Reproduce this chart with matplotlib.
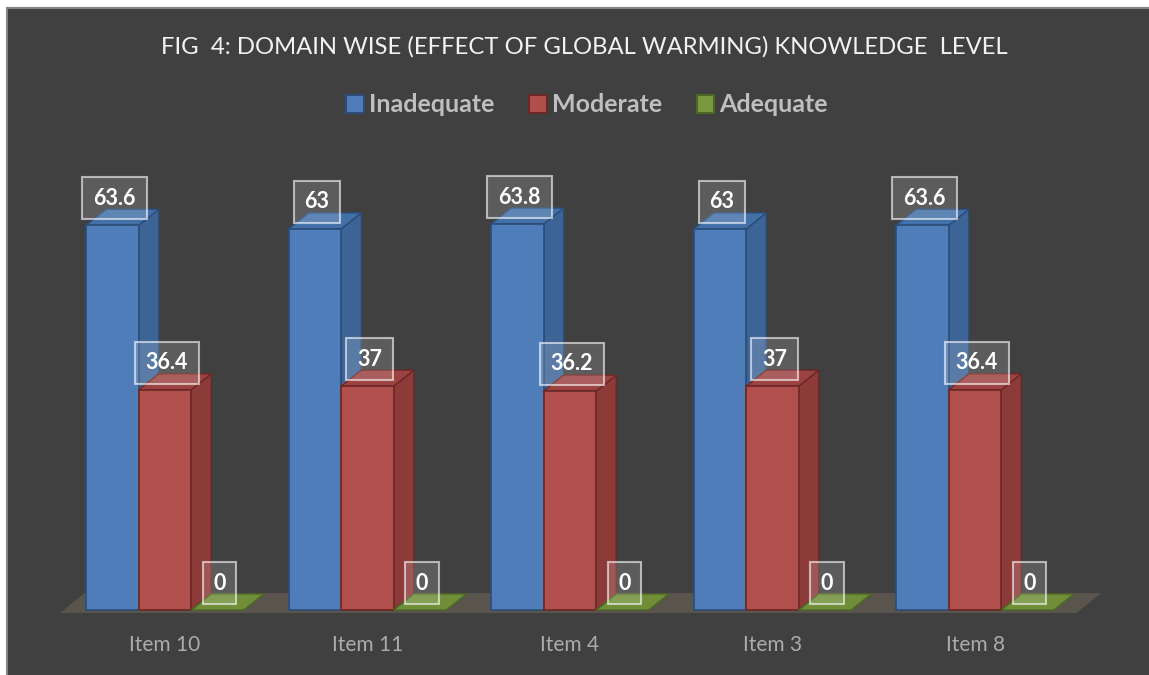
import numpy as np
import matplotlib.pyplot as plt
from matplotlib.patches import Polygon, Patch, Rectangle

plt.rcParams['font.family'] = ['Lato', 'DejaVu Sans']

categories = ['Item 10', 'Item 11', 'Item 4', 'Item 3', 'Item 8']
inadequate = [63.6, 63, 63.8, 63, 63.6]
moderate = [36.4, 37, 36.2, 37, 36.4]
adequate = [0, 0, 0, 0, 0]
series_names = ['Inadequate', 'Moderate', 'Adequate']
title = 'FIG  4: DOMAIN WISE (EFFECT OF GLOBAL WARMING) KNOWLEDGE  LEVEL'

front_colors = ['#4f7dba', '#b04f4c', '#7a9a3f']
side_colors = ['#3d6497', '#8c3b39', '#5e7b2e']
top_colors = ['#4270a8', '#9c4341', '#6f8e37']
edge_colors = ['#2b4d78', '#6b2827', '#4d6824']

W, H = 1149, 675
fig = plt.figure(figsize=(W / 100, H / 100), dpi=100)
fig.patch.set_facecolor('white')
fig.patches.append(Rectangle((7 / W, -0.01), 1.0, (H - 8) / H + 0.01,
                             transform=fig.transFigure, facecolor='#404040',
                             edgecolor='#858585', lw=1.5, zorder=0))

# axes fills the figure; data units chosen so 1 category = 202.5 px, 1 unit = 6.05 px
ax = fig.add_axes([0, 0, 1, 1])
ax.set_zorder(1)
ax.set_facecolor('none')
px_x, px_y = 202.5, 6.05
x0 = -165 / px_x
ax.set_xlim(x0, x0 + W / px_x)
ax.set_ylim(-(H - 610) / px_y, 610 / px_y)
ax.axis('off')

bw = 52.5 / px_x
dx, dy = 20 / px_x, 16 / px_y

# floor
n = len(categories)
fl = [(-0.52, -0.5), (n - 0.5, -0.5), (n - 0.5 + 25 / px_x, 2.8),
      (-0.52 + 25 / px_x, 2.8)]
ax.add_patch(Polygon(fl, closed=True, facecolor='#59554d', edgecolor='none',
                     zorder=1))

x = np.arange(n)
values = [inadequate, moderate, adequate]
for i in range(n):
    for k, vals in enumerate(values):
        v = vals[i]
        left = x[i] + (k - 1) * bw - bw / 2
        right = left + bw
        # side face
        ax.add_patch(Polygon([(right, 0), (right + dx, dy), (right + dx, v + dy), (right, v)],
                             closed=True, facecolor=side_colors[k],
                             edgecolor=edge_colors[k], lw=1, zorder=2 + k))
        # top face
        ax.add_patch(Polygon([(left, v), (right, v), (right + dx, v + dy), (left + dx, v + dy)],
                             closed=True, facecolor=top_colors[k],
                             edgecolor=edge_colors[k], lw=1, zorder=2 + k))
        # front face
        if v > 0:
            ax.bar(left, v, width=bw, align='edge', color=front_colors[k],
                   edgecolor=edge_colors[k], lw=1.2, zorder=2 + k)
        ax.text(left + bw / 2 + 2 / px_x, v + 27 / px_y, f'{v:g}', ha='center', va='center',
                color='white', fontsize=15.5, fontweight='bold', zorder=10,
                bbox=dict(boxstyle='square,pad=0.5', facecolor=(1, 1, 1, 0.15),
                          edgecolor=(1, 1, 1, 0.6), lw=1.5))

for i, c in enumerate(categories):
    ax.text(x[i], -(645 - 610) / px_y, c, ha='center', va='center',
            color='#ababab', fontsize=15)

fig.text(584 / W, 1 - 47 / H, title, ha='center', va='center', color='#f2f2f2',
         fontsize=17.2)

handles = [Patch(facecolor=front_colors[k], edgecolor=edge_colors[k], lw=1.5,
                 label=series_names[k]) for k in range(3)]
fig.legend(handles=handles, loc='center', bbox_to_anchor=(587 / W, 1 - 105 / H),
           ncol=3, frameon=False, handlelength=0.7, handleheight=0.7,
           handletextpad=0.2, columnspacing=1.4,
           prop={'size': 18, 'weight': 'bold'}, labelcolor='#bfbfbf')

fig.savefig('out.png', dpi=100)
